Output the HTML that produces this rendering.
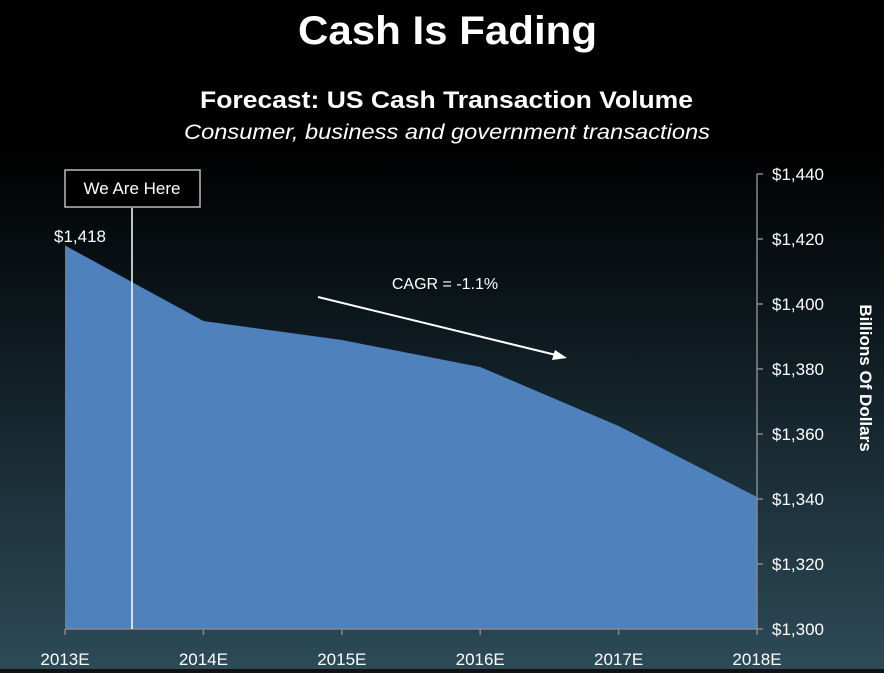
<!DOCTYPE html>
<html><head><style>
body{margin:0;width:884px;height:673px;overflow:hidden;background:linear-gradient(180deg,#000 0%,#000 22%,#0e1a20 50%,#2d4b58 100%);font-family:"Liberation Sans",sans-serif;}
</style></head><body>
<svg width="884" height="673" xmlns="http://www.w3.org/2000/svg" style="position:absolute;left:0;top:0">
<text x="298" y="44" fill="#fff" font-size="40" font-weight="bold" textLength="299" lengthAdjust="spacingAndGlyphs">Cash Is Fading</text>
<text x="200" y="108" fill="#fff" font-size="24" font-weight="bold" textLength="493" lengthAdjust="spacingAndGlyphs">Forecast: US Cash Transaction Volume</text>
<text x="184" y="139" fill="#fff" font-size="21" font-style="italic" textLength="526" lengthAdjust="spacingAndGlyphs">Consumer, business and government transactions</text>
<polygon points="65,245.5 203.4,321 341.8,340 480.2,367 618.6,426 757,497 757,629 65,629" fill="#4f81bd"/>
<line x1="65" y1="629" x2="757" y2="629" stroke="#888" stroke-width="1.5"/>
<g stroke="#888" stroke-width="1.5">
<line x1="65" y1="629" x2="65" y2="635"/><line x1="203.4" y1="629" x2="203.4" y2="635"/><line x1="341.8" y1="629" x2="341.8" y2="635"/><line x1="480.2" y1="629" x2="480.2" y2="635"/><line x1="618.6" y1="629" x2="618.6" y2="635"/><line x1="757" y1="629" x2="757" y2="635"/>
<line x1="757" y1="174" x2="757" y2="629"/>
<line x1="757" y1="174" x2="763" y2="174"/><line x1="757" y1="239" x2="763" y2="239"/><line x1="757" y1="304" x2="763" y2="304"/><line x1="757" y1="369" x2="763" y2="369"/><line x1="757" y1="434" x2="763" y2="434"/><line x1="757" y1="499" x2="763" y2="499"/><line x1="757" y1="564" x2="763" y2="564"/><line x1="757" y1="629" x2="763" y2="629"/>
</g>
<g fill="#fff" font-size="17">
<text x="772" y="180">$1,440</text><text x="772" y="245">$1,420</text><text x="772" y="310">$1,400</text><text x="772" y="375">$1,380</text><text x="772" y="440">$1,360</text><text x="772" y="505">$1,340</text><text x="772" y="570">$1,320</text><text x="772" y="635">$1,300</text>
</g>
<g fill="#fff" font-size="17" text-anchor="middle">
<text x="65" y="665">2013E</text><text x="203.4" y="665">2014E</text><text x="341.8" y="665">2015E</text><text x="480.2" y="665">2016E</text><text x="618.6" y="665">2017E</text><text x="757" y="665">2018E</text>
</g>
<text transform="translate(860,378) rotate(90)" fill="#fff" font-size="17" font-weight="bold" text-anchor="middle">Billions Of Dollars</text>
<line x1="132" y1="208" x2="132" y2="629" stroke="#fff" stroke-width="1.5"/>
<rect x="65" y="170" width="135" height="37" fill="#000" stroke="#bbb" stroke-width="1.5"/>
<text x="132" y="194" fill="#fff" font-size="17" text-anchor="middle">We Are Here</text>
<text x="80" y="242" fill="#fff" font-size="17" text-anchor="middle">$1,418</text>
<text x="445" y="289" fill="#fff" font-size="16" text-anchor="middle">CAGR = -1.1%</text>
<line x1="318" y1="297" x2="556" y2="355" stroke="#fff" stroke-width="2"/>
<polygon points="567,358 552,360 555,350" fill="#fff"/>
<rect x="0" y="669" width="884" height="4" fill="#111"/>
</svg>
</body></html>
